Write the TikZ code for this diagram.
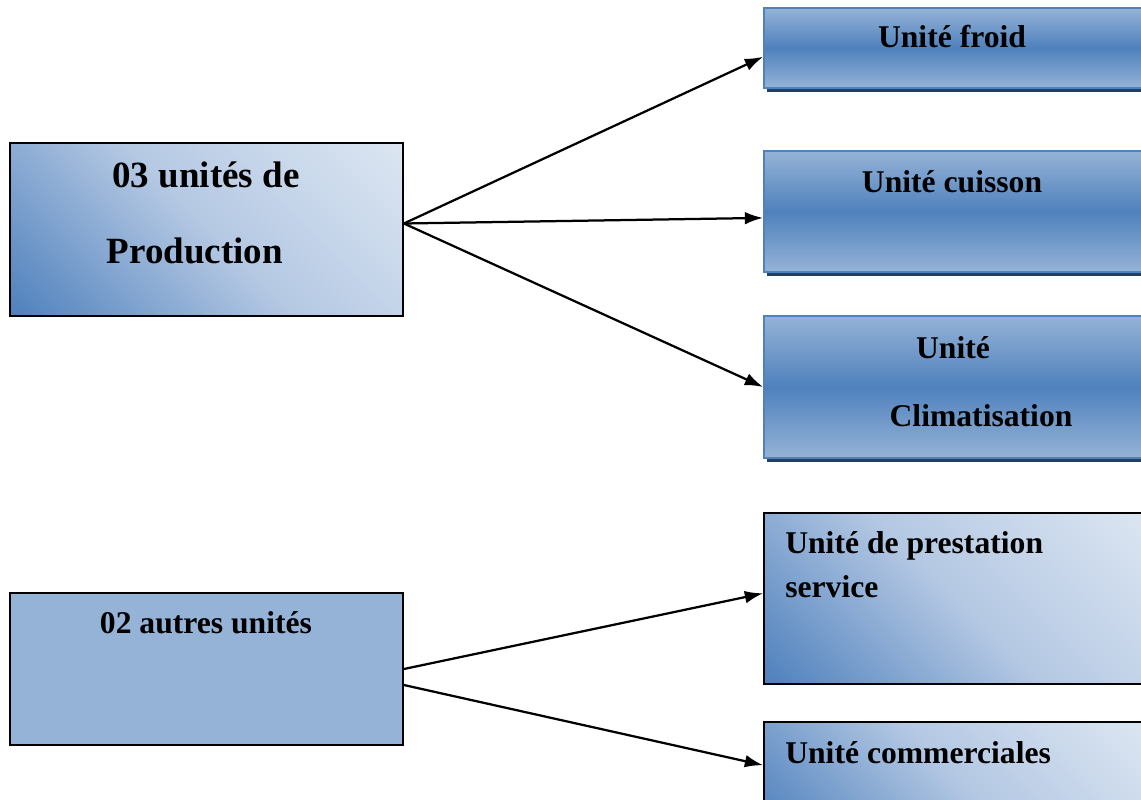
\documentclass[tikz,border=0pt]{standalone}
\usepackage{fontspec}
\setmainfont{Liberation Serif}
\usepackage{xcolor}
\usepackage{tikz}
\usetikzlibrary{arrows.meta,positioning,shadows}

\definecolor{darkblue}{HTML}{4F81BD}
\definecolor{midblue}{HTML}{95B3D7}
\definecolor{paleblue}{HTML}{DCE6F2}
\definecolor{softblue}{HTML}{B4C8E3}
\definecolor{navyshadow}{HTML}{243F60}

\pgfdeclareverticalshading{cornerfade}{100bp}{
    color(0bp)=(darkblue); color(15bp)=(darkblue);
    color(50bp)=(softblue);
    color(85bp)=(paleblue); color(100bp)=(paleblue)}

\begin{document}
\begin{tikzpicture}[
    x=0.025cm, y=-0.025cm,
    font=\fontsize{22.5}{27}\selectfont\bfseries,
    band/.style={
        draw=darkblue,
        line width=1.2pt,
        top color=midblue,
        bottom color=midblue,
        middle color=darkblue,
        drop shadow={fill=navyshadow, opacity=1, shadow xshift=0.08cm, shadow yshift=-0.1cm}
    },
    fade/.style={
        draw=black,
        line width=1.2pt,
        shading=cornerfade,
        shading angle=-45
    },
    flat/.style={
        draw=black,
        line width=1.2pt,
        fill=midblue
    },
    lbl/.style={anchor=base, inner sep=0pt},
    big/.style={font=\fontsize{26.3}{31}\selectfont\bfseries},
    line/.style={-{Latex[length=13pt, width=9pt]}, line width=1.6pt}
]
\useasboundingbox (0,0) rectangle (1141,800);
\clip (0,0) rectangle (1141,800);

% --- Left ---
\node[fade, minimum width=9.825cm, minimum height=4.325cm] (prod) at (206.5,229.5) {};
\node[flat, minimum width=9.825cm, minimum height=3.8cm] (autres) at (206.5,669) {};

% --- Right, production ---
\node[band, minimum width=9.6cm, minimum height=2cm] (froid) at (956,48) {};
\node[band, minimum width=9.6cm, minimum height=3.025cm] (cuisson) at (956,211.5) {};
\node[band, minimum width=9.6cm, minimum height=3.55cm] (clim) at (956,387) {};

% --- Right, others ---
\node[fade, minimum width=9.6cm, minimum height=4.275cm] (presta) at (956,598.5) {};
\node[fade, minimum width=9.6cm, minimum height=2.7cm] (commer) at (956,776) {};

% --- Labels ---
\node[lbl, big] (prodtop) at (206,188) {03 unités de};
\node[lbl, big] (prodbot) at (195,263) {Production};
\node[lbl] (autreslbl) at (206,633) {02 autres unités};
\node[lbl] (froidlbl) at (952,48) {Unité froid};
\node[lbl] (cuissonlbl) at (952,193) {Unité cuisson};
\node[lbl] (climtop) at (953,358) {Unité};
\node[lbl] (climbot) at (981,426) {Climatisation};
\node[lbl, anchor=base west] (prestatop) at (785,553) {Unité de prestation};
\node[lbl, anchor=base west] (prestabot) at (785,597) {service};
\node[lbl, anchor=base west] (commerlbl) at (785,763) {Unité commerciales};

% --- Connections ---
\draw[line] ([yshift=0.15cm]prod.east) -- ([yshift=-0.22cm]froid.west);
\draw[line] ([yshift=0.15cm]prod.east) -- ([yshift=-0.16cm]cuisson.west);
\draw[line] ([yshift=0.15cm]prod.east) -- (clim.west);

\draw[line] (autres.east) -- ([yshift=0.13cm]presta.west);
\draw[line] ([yshift=-0.4cm]autres.east) -- ([yshift=0.27cm]commer.west);

\end{tikzpicture}
\end{document}
